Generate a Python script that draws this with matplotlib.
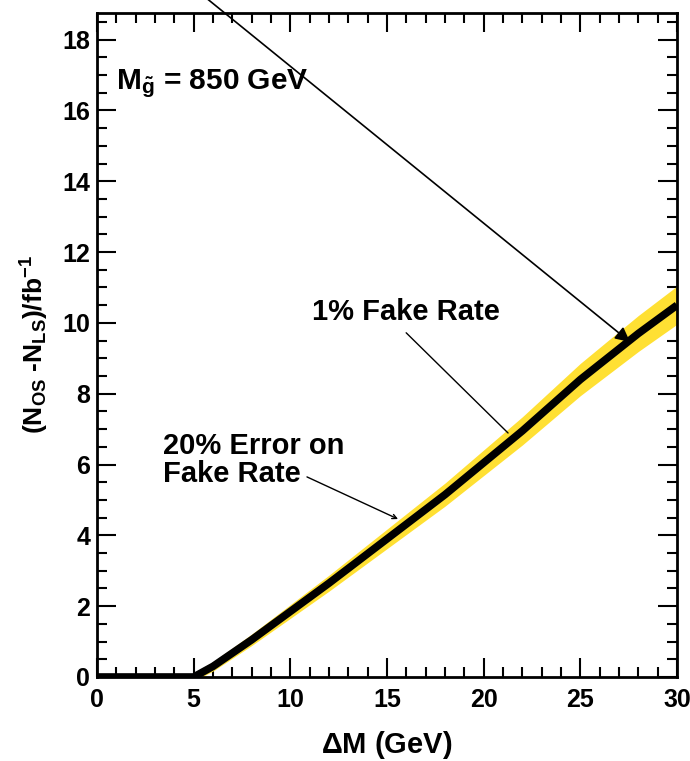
import numpy as np
import matplotlib as mpl
import matplotlib.pyplot as plt
from matplotlib.ticker import MultipleLocator

mpl.use('Agg')

plt.rcParams['font.family'] = ['Liberation Sans', 'DejaVu Sans']
plt.rcParams['font.weight'] = 'bold'
plt.rcParams['mathtext.fontset'] = 'custom'
plt.rcParams['mathtext.rm'] = 'Liberation Sans:bold'
plt.rcParams['mathtext.it'] = 'Liberation Sans:bold'
plt.rcParams['mathtext.bf'] = 'Liberation Sans:bold'

# curve
dm = [0, 5, 6, 8, 10, 12, 15, 18, 20, 22, 25, 28, 30]
nsig = [0, 0, 0.3, 1.05, 1.85, 2.65, 3.9, 5.15, 6.05, 6.95, 8.4, 9.7, 10.5]
err_frac = 0.04

x = np.array(dm, dtype=float)
y = np.array(nsig)

fig = plt.figure(figsize=(6.9, 7.61), dpi=100)
ax = fig.add_axes([0.1406, 0.1104, 0.8406, 0.8725])

ax.fill_between(x, y * (1 - err_frac) - 0.12, y * (1 + err_frac) + 0.12,
                where=x >= 5, color='#ffe033', lw=0, zorder=2)
ax.plot(x, y, color='black', lw=5.5, solid_capstyle='butt', zorder=3)

ax.set_xlim(0, 30)
ax.set_ylim(0, 18.75)
ax.xaxis.set_major_locator(MultipleLocator(5))
ax.xaxis.set_minor_locator(MultipleLocator(1))
ax.yaxis.set_major_locator(MultipleLocator(2))
ax.yaxis.set_minor_locator(MultipleLocator(0.5))
ax.tick_params(which='both', direction='in', top=True, right=True,
               width=1.5, labelsize=18)
ax.tick_params(which='major', length=14)
ax.tick_params(axis='x', which='major', pad=8)
ax.tick_params(axis='y', which='major', pad=5)
ax.tick_params(which='minor', length=7)
for s in ax.spines.values():
    s.set_linewidth(2)

ax.set_xlabel(r'$\Delta$M (GeV)', fontsize=21, fontweight='bold', labelpad=12)
ax.set_ylabel(r'(N$_{\rm OS}$ -N$_{\rm LS}$)/fb$^{-1}$', fontsize=19,
              fontweight='bold', labelpad=8)

ax.text(1.0, 16.75, r'M$_{\tilde{g}}$ = 850 GeV', fontsize=21.5,
        fontweight='bold', va='center', ha='left')
ax.text(15.99, 10.31, '1% Fake Rate', fontsize=21, fontweight='bold',
        ha='center', va='center')
ax.text(3.41, 6.14, '20% Error on\nFake Rate', fontsize=21,
        fontweight='bold', ha='left', va='center', linespacing=1.0)

ax.annotate('', xy=(27.57, 9.46), xytext=(5.59, 19.2),
            arrowprops=dict(arrowstyle='-|>', color='black', lw=1.2,
                            mutation_scale=22, shrinkA=0, shrinkB=0),
            annotation_clip=False, zorder=5)
ax.annotate('', xy=(21.26, 6.89), xytext=(15.99, 9.72),
            arrowprops=dict(arrowstyle='-', color='black', lw=1,
                            shrinkA=0, shrinkB=0), zorder=5)
ax.annotate('', xy=(15.57, 4.46), xytext=(10.86, 5.65),
            arrowprops=dict(arrowstyle='->', color='black', lw=1,
                            mutation_scale=8, shrinkA=0, shrinkB=0), zorder=5)

fig.savefig('out.png', dpi=100)
